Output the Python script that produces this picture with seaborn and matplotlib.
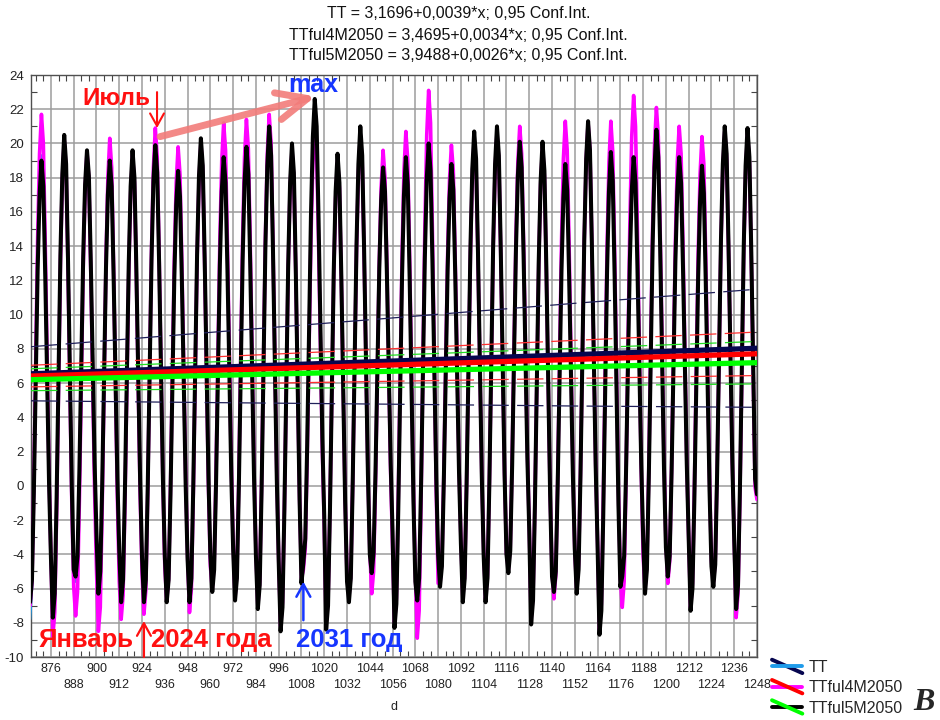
import numpy as np
import pandas as pd
import matplotlib
matplotlib.use("Agg")
import matplotlib.pyplot as plt
import seaborn as sns
from matplotlib.ticker import MultipleLocator
from matplotlib.legend_handler import HandlerBase
from matplotlib.lines import Line2D

# ---------------------------------------------------------------------------
# Data: monthly mean air temperature, one row per year (Jan ... Dec).
# The running month counter d starts at January 2019 = 865.
# ---------------------------------------------------------------------------
first_month = 865
years = list(range(2019, 2051))

# observed series (2019-2023)
tt_monthly = [
    [-7.8, -6.0, -0.6, 6.0, 12.8, 17.2, 19.3, 17.6, 12.2, 6.0, 0.0, -4.5],
    [-7.2, -6.0, -0.5, 6.3, 13.3, 18.0, 20.2, 18.6, 13.0, 6.3, -0.2, -4.8],
    [-5.6, -4.3, 0.7, 7.0, 13.2, 17.4, 19.4, 17.9, 13.0, 7.0, 1.2, -3.0],
    [-6.5, -5.2, -0.2, 6.2, 12.5, 16.8, 18.8, 17.3, 12.2, 6.2, 0.3, -4.0],
    [-6.9, -5.6, -0.3, 6.3, 12.8, 17.3, 19.4, 17.8, 12.5, 6.3, 0.2, -4.3],
]

# scenario TTful4M2050 (2019-2050)
ful4_monthly = [
    [-7.0, -5.6, 0.2, 7.4, 14.5, 19.4, 21.7, 20.0, 14.2, 7.4, 0.7, -4.1],
    [-8.8, -7.4, -1.6, 5.7, 13.0, 17.9, 20.2, 18.5, 12.7, 5.7, -1.0, -5.9],
    [-7.6, -6.2, -0.8, 6.0, 12.7, 17.3, 19.5, 17.9, 12.5, 6.0, -0.3, -4.9],
    [-8.5, -7.1, -1.3, 5.9, 13.1, 18.0, 20.3, 18.6, 12.8, 5.9, -0.7, -5.6],
    [-7.8, -6.4, -1.0, 5.8, 12.5, 17.1, 19.3, 17.7, 12.3, 5.8, -0.5, -5.1],
    [-7.5, -6.1, -0.4, 6.7, 13.8, 18.6, 20.9, 19.2, 13.5, 6.7, 0.2, -4.7],
    [-6.7, -5.4, -0.1, 6.6, 13.2, 17.7, 19.8, 18.2, 12.9, 6.6, 0.5, -4.1],
    [-7.4, -6.0, -0.5, 6.3, 13.2, 17.8, 20.0, 18.4, 12.9, 6.3, 0.0, -4.7],
    [-6.0, -4.6, 0.8, 7.6, 14.4, 19.0, 21.2, 19.6, 14.1, 7.6, 1.3, -3.3],
    [-6.5, -5.1, 0.5, 7.5, 14.4, 19.2, 21.4, 19.7, 14.2, 7.5, 1.0, -3.7],
    [-7.0, -5.6, 0.2, 7.4, 14.5, 19.4, 21.7, 20.0, 14.0, 7.4, 0.7, -4.3],
    [-8.2, -6.8, -1.3, 5.7, 12.7, 17.4, 19.6, 17.9, 12.4, 5.7, -0.7, -5.4],
    [-4.9, -3.6, 1.6, 8.0, 14.5, 18.8, 20.9, 19.4, 14.2, 8.0, 2.1, -2.3],
    [-8.0, -6.7, -1.3, 5.5, 12.3, 16.8, 19.0, 17.4, 12.0, 5.5, -0.7, -5.3],
    [-6.5, -5.2, 0.3, 7.0, 13.8, 18.3, 20.5, 18.9, 13.5, 7.0, 0.8, -3.8],
    [-6.3, -5.0, 0.2, 6.7, 13.1, 17.5, 19.6, 18.0, 12.9, 6.7, 0.7, -3.7],
    [-8.0, -6.6, -0.8, 6.4, 13.5, 18.4, 20.7, 19.0, 13.2, 6.4, -0.3, -5.1],
    [-8.9, -7.3, -0.9, 7.1, 15.1, 20.5, 23.1, 21.2, 14.8, 7.1, -0.3, -5.7],
    [-5.7, -4.4, 0.7, 7.1, 13.5, 17.9, 19.9, 18.4, 13.2, 7.1, 1.2, -3.1],
    [-6.5, -5.2, 0.2, 6.9, 13.5, 18.1, 20.2, 18.6, 13.3, 6.9, 0.7, -3.8],
    [-6.6, -5.2, 0.2, 7.0, 13.8, 18.4, 20.6, 19.0, 13.5, 7.0, 0.7, -3.9],
    [-4.9, -3.6, 1.6, 8.1, 14.5, 18.9, 21.0, 19.4, 14.3, 8.1, 2.1, -2.3],
    [-7.8, -6.4, -0.9, 6.0, 12.9, 17.6, 19.8, 18.1, 12.6, 6.0, -0.4, -5.0],
    [-6.6, -5.2, 0.4, 7.4, 14.3, 19.1, 21.3, 19.6, 14.1, 7.4, 0.9, -3.8],
    [-6.0, -4.6, 0.8, 7.6, 14.4, 19.0, 21.2, 19.6, 14.1, 7.6, 1.3, -3.3],
    [-8.4, -6.9, -1.0, 6.5, 13.9, 18.9, 21.3, 19.5, 13.6, 6.5, -0.4, -5.4],
    [-7.1, -5.6, 0.4, 7.9, 15.3, 20.4, 22.8, 21.0, 15.0, 7.9, 1.0, -4.1],
    [-6.0, -4.6, 1.0, 8.1, 15.1, 19.9, 22.1, 20.4, 14.8, 8.1, 1.6, -3.2],
    [-5.7, -4.4, 1.0, 7.7, 14.3, 18.9, 21.0, 19.4, 14.1, 7.7, 1.5, -3.0],
    [-7.1, -5.7, -0.2, 6.7, 13.5, 18.2, 20.4, 18.8, 13.3, 6.7, 0.3, -4.4],
    [-5.7, -4.4, 0.9, 7.5, 14.1, 18.6, 20.7, 19.1, 13.8, 7.5, 1.4, -3.1],
    [-7.7, -6.3, -0.6, 6.5, 13.5, 18.3, 20.6, 18.9, 13.2, 6.5, -0.1, -0.8],
]

# scenario TTful5M2050 (2019-2050)
ful5_monthly = [
    [-6.8, -5.5, -0.4, 6.1, 12.6, 16.9, 19.0, 17.5, 12.3, 6.1, 0.2, -4.2],
    [-7.7, -6.3, -0.7, 6.4, 13.5, 18.2, 20.5, 18.8, 13.2, 6.4, -0.1, -4.9],
    [-5.3, -4.1, 0.9, 7.2, 13.4, 17.6, 19.6, 18.1, 13.1, 7.2, 1.4, -2.8],
    [-6.3, -5.0, 0.0, 6.4, 12.7, 17.0, 19.0, 17.5, 12.4, 6.4, 0.5, -3.8],
    [-6.8, -5.5, -0.2, 6.4, 13.0, 17.5, 19.6, 18.0, 12.7, 6.4, 0.3, -4.2],
    [-6.8, -5.5, -0.1, 6.6, 13.2, 17.8, 19.9, 18.3, 13.0, 6.6, 0.4, -4.1],
    [-6.8, -5.5, -0.5, 5.8, 12.1, 16.4, 18.4, 16.9, 11.9, 5.8, 0.0, -4.3],
    [-6.8, -5.4, 0.0, 6.8, 13.5, 18.1, 20.3, 18.7, 13.3, 6.8, 0.5, -4.1],
    [-6.2, -4.9, 0.2, 6.5, 12.9, 17.2, 19.2, 17.7, 12.6, 6.5, 0.7, -3.7],
    [-6.7, -5.4, -0.1, 6.6, 13.2, 17.7, 19.8, 18.2, 12.9, 6.6, 0.5, -4.1],
    [-7.2, -5.8, -0.2, 6.9, 14.0, 18.7, 21.0, 19.3, 13.7, 6.9, 0.4, -4.4],
    [-8.5, -7.1, -1.4, 5.8, 12.9, 17.7, 20.0, 18.3, 12.6, 5.8, -0.8, -5.7],
    [-4.5, -3.1, 2.3, 9.1, 15.8, 20.4, 22.6, 21.0, 15.6, 9.1, 2.8, -1.8],
    [-8.4, -7.0, -1.5, 5.5, 12.5, 17.2, 19.4, 17.7, 12.2, 5.5, -0.9, -5.6],
    [-6.8, -5.4, 0.2, 7.1, 14.1, 18.8, 21.0, 19.3, 13.8, 7.1, 0.7, -4.0],
    [-5.1, -3.9, 0.8, 6.8, 12.7, 16.7, 18.6, 17.2, 12.4, 6.8, 1.3, -2.7],
    [-8.3, -6.9, -1.4, 5.5, 12.3, 17.0, 19.2, 17.6, 12.1, 5.5, -0.9, -5.6],
    [-6.7, -5.4, 0.0, 6.7, 13.3, 17.9, 20.0, 18.4, 13.1, 6.7, 0.5, -4.0],
    [-5.9, -4.7, 0.3, 6.5, 12.6, 16.8, 18.8, 17.3, 12.4, 6.5, 0.8, -3.4],
    [-6.8, -5.4, 0.1, 7.0, 13.8, 18.5, 20.7, 19.1, 13.6, 7.0, 0.6, -4.1],
    [-6.8, -5.4, 0.2, 7.1, 14.1, 18.8, 21.0, 19.3, 13.8, 7.1, 0.7, -4.0],
    [-5.1, -3.8, 1.2, 7.5, 13.8, 18.1, 20.1, 18.6, 13.6, 7.5, 1.7, -2.6],
    [-8.1, -6.7, -1.1, 6.0, 13.1, 17.8, 20.1, 18.4, 12.8, 6.0, -0.5, -5.3],
    [-6.2, -5.0, 0.1, 6.3, 12.6, 16.8, 18.8, 17.3, 12.3, 6.3, 0.6, -3.7],
    [-6.3, -4.9, 0.6, 7.5, 14.4, 19.1, 21.3, 19.6, 14.1, 7.5, 1.2, -3.5],
    [-8.7, -7.3, -1.7, 5.4, 12.5, 17.2, 19.5, 17.8, 12.2, 5.4, -1.1, -5.9],
    [-5.3, -4.1, 0.8, 7.0, 13.1, 17.2, 19.2, 17.7, 12.8, 7.0, 1.3, -2.9],
    [-6.3, -4.9, 0.5, 7.3, 14.0, 18.6, 20.8, 19.2, 13.8, 7.3, 1.0, -3.6],
    [-5.3, -4.1, 0.8, 7.0, 13.1, 17.2, 19.2, 17.7, 12.8, 7.0, 1.3, -2.9],
    [-7.3, -6.0, -0.8, 5.7, 12.2, 16.6, 18.7, 17.1, 11.9, 5.7, -0.3, -4.7],
    [-5.9, -4.6, 0.8, 7.6, 14.3, 18.8, 21.0, 19.4, 14.0, 7.6, 1.4, -3.2],
    [-7.2, -5.8, -0.2, 6.9, 13.9, 18.7, 20.9, 19.2, 13.6, 6.9, 0.4, -0.5],
]

# linear fits: intercept, slope
tt_fit = (3.1696, 0.0039)
ful4_fit = (3.4695, 0.0034)
ful5_fit = (3.9488, 0.0026)

# half-width of the 0.95 confidence bands at selected d
ci_d = [865.5, 960, 1056, 1152, 1248]
tt_ci_half = [1.58, 2.05, 2.52, 3.00, 3.45]
ful4_ci_half = [0.63, 0.79, 0.95, 1.11, 1.27]
ful5_ci_half = [0.64, 0.79, 0.94, 1.09, 1.24]

series_names = ["TT", "TTful4M2050", "TTful5M2050"]
x_ticks = list(range(876, 1249, 12))
y_ticks = list(range(-10, 25, 2))

# ---------------------------------------------------------------------------
sns.set_style("white")
plt.rcParams["font.family"] = ["Liberation Sans", "DejaVu Sans"]
plt.rcParams["lines.scale_dashes"] = False
plt.rcParams["axes.unicode_minus"] = False

C_TT = "#1e9bea"
C_TT_FIT = "#06064f"
C_F4 = "#ff00ff"
C_F4_FIT = "#ff0000"
C_F5 = "#000000"
C_F5_FIT = "#00ff00"
RED = "#ff1010"
BLUE = "#1636ff"

fig = plt.figure(figsize=(9.4, 7.2), dpi=100)
ax = fig.add_axes([31 / 940, 63 / 720, 726 / 940, 582 / 720])


def to_frame(rows):
    vals = np.ravel(np.array(rows, dtype=float))
    return pd.DataFrame({"d": first_month + np.arange(vals.size), "T": vals})


tt_df = to_frame(tt_monthly)
f4_df = to_frame(ful4_monthly)
f5_df = to_frame(ful5_monthly)

sns.lineplot(data=tt_df, x="d", y="T", color=C_TT, linewidth=1.8, ax=ax,
             estimator=None, sort=False, legend=False, zorder=3)
sns.lineplot(data=f4_df, x="d", y="T", color=C_F4, linewidth=2.6, ax=ax,
             estimator=None, sort=False, legend=False, zorder=4)
sns.lineplot(data=f5_df, x="d", y="T", color=C_F5, linewidth=2.9, ax=ax,
             estimator=None, sort=False, legend=False, zorder=5)

# regression lines with confidence bands
ci_d_arr = np.array(ci_d)
for fit, half, c_line, c_band in [
    (tt_fit, tt_ci_half, C_TT_FIT, "#20205a"),
    (ful4_fit, ful4_ci_half, C_F4_FIT, "#ff3030"),
    (ful5_fit, ful5_ci_half, C_F5_FIT, "#22dd22"),
]:
    a, b = fit
    centre = a + b * ci_d_arr
    half = np.array(half)
    for edge in (centre + half, centre - half):
        ax.plot(ci_d_arr, edge, color=c_band, lw=0.9, ls=(0, (19, 6)), zorder=6)
    sns.lineplot(x=ci_d_arr, y=centre, color=c_line, linewidth=3.8, ax=ax,
                 legend=False, zorder=7)

# axes, ticks and grid
ax.set_xlim(865.5, 1248)
ax.set_ylim(-10, 24)
ax.set_xticks(x_ticks)
ax.set_xticklabels([str(v) if i % 2 == 0 else "" for i, v in enumerate(x_ticks)])
ax.set_yticks(y_ticks)
ax.set_yticklabels([str(v) for v in y_ticks])
ax.xaxis.set_minor_locator(MultipleLocator(4))
ax.yaxis.set_minor_locator(MultipleLocator(1))
ax.tick_params(which="major", length=0, labelsize=9, labelcolor="#222222")
ax.tick_params(axis="x", which="major", pad=4)
ax.tick_params(axis="y", which="major", pad=5, labelsize=9.5)
ax.tick_params(which="minor", direction="in", length=4, width=0.8,
               color="#444444", top=True, right=True, bottom=True, left=True)
ax.grid(True, which="major", color="#9c9c9c", lw=1.1)
ax.set_axisbelow(True)
for sp in ax.spines.values():
    sp.set_color("#505050")
    sp.set_linewidth(1.0)

# second row of staggered x labels
sec = ax.secondary_xaxis("bottom")
sec.set_xticks(x_ticks[1::2])
sec.set_xticklabels([str(v) for v in x_ticks[1::2]])
sec.tick_params(length=0, pad=16, labelsize=9, labelcolor="#222222")
sec.spines["bottom"].set_visible(False)

ax.set_xlabel("d", fontsize=9, color="#222222")
ax.xaxis.set_label_coords(0.5, -0.076)
ax.set_ylabel("")

# annotations
ax.text(910.3, 22.6, "Июль", color=RED, fontsize=17.5, fontweight="bold",
        ha="center", va="center", zorder=9)
ax.annotate("", xy=(931.9, 20.9), xytext=(931.9, 23.0),
            arrowprops=dict(arrowstyle="->,head_length=0.45,head_width=0.25",
                            color=RED, lw=1.5, mutation_scale=20,
                            shrinkA=0, shrinkB=0), zorder=9)
ax.annotate("", xy=(1015.5, 22.75), xytext=(933.5, 20.4),
            arrowprops=dict(arrowstyle="->,head_length=1.0,head_width=0.45",
                            color="#f27c7a", lw=5, alpha=0.9, mutation_scale=22,
                            shrinkA=0, shrinkB=0), zorder=9)
ax.text(1014.1, 23.4, "max", color=BLUE, fontsize=18, fontweight="bold",
        ha="center", va="center", zorder=9)

ax.text(919.8, -9.0, "Январь", color=RED, fontsize=18.5, fontweight="bold",
        ha="right", va="center", zorder=9)
ax.annotate("", xy=(925, -7.9), xytext=(925, -10.0),
            arrowprops=dict(arrowstyle="->,head_length=0.45,head_width=0.25",
                            color=RED, lw=1.6, mutation_scale=20,
                            shrinkA=0, shrinkB=0), zorder=9)
ax.text(928.7, -9.0, "2024 года", color=RED, fontsize=18.5, fontweight="bold",
        ha="left", va="center", zorder=9)
ax.annotate("", xy=(1009, -5.6), xytext=(1009, -7.85),
            arrowprops=dict(arrowstyle="->,head_length=0.45,head_width=0.25",
                            color=BLUE, lw=1.8, mutation_scale=20,
                            shrinkA=0, shrinkB=0), zorder=9)
ax.text(1005.1, -9.0, "2031 год", color=BLUE, fontsize=18.5, fontweight="bold",
        ha="left", va="center", zorder=9)


# header with the fitted equations
def num(v):
    return f"{v:.4f}".replace(".", ",")


header = [f"{n} = {num(a)}+{num(b)}*x; 0,95 Conf.Int."
          for n, (a, b) in zip(series_names, [tt_fit, ful4_fit, ful5_fit])]
for i, line in enumerate(header):
    fig.text(0.488, 1 - (14 + 21 * i) / 720, line, fontsize=11.5,
             ha="center", va="center", color="#111111")


# legend: each key shows the data colour (flat) crossed by the fit colour
class PairKey:
    def __init__(self, flat, slant, slant_on_top):
        self.flat = flat
        self.slant = slant
        self.slant_on_top = slant_on_top


class PairHandler(HandlerBase):
    def create_artists(self, legend, orig_handle, xdescent, ydescent,
                       width, height, fontsize, trans):
        x0, x1 = -xdescent, -xdescent + width
        ym = -ydescent + height / 2
        flat = Line2D([x0, x1], [ym, ym], color=orig_handle.flat, lw=2.8,
                      transform=trans)
        slant = Line2D([x0, x1], [ym + height * 0.6, ym - height * 0.6],
                       color=orig_handle.slant, lw=2.8, transform=trans)
        return [flat, slant] if orig_handle.slant_on_top else [slant, flat]


keys = [PairKey(C_TT, C_TT_FIT, False), PairKey(C_F4, C_F4_FIT, True),
        PairKey(C_F5, C_F5_FIT, True)]
fig.legend(keys, series_names, handler_map={PairKey: PairHandler()},
           loc="upper left", bbox_to_anchor=(772 / 940, 1 - 660 / 720),
           frameon=False, borderpad=0, borderaxespad=0, handlelength=1.9,
           handletextpad=0.4, labelspacing=0.33, fontsize=11.5)

fig.text(0.994, 0.004, "В", fontsize=23, fontweight="bold", fontstyle="italic",
         family=["Liberation Serif", "DejaVu Serif"], ha="right", va="bottom")

fig.savefig("out.png", dpi=100)
